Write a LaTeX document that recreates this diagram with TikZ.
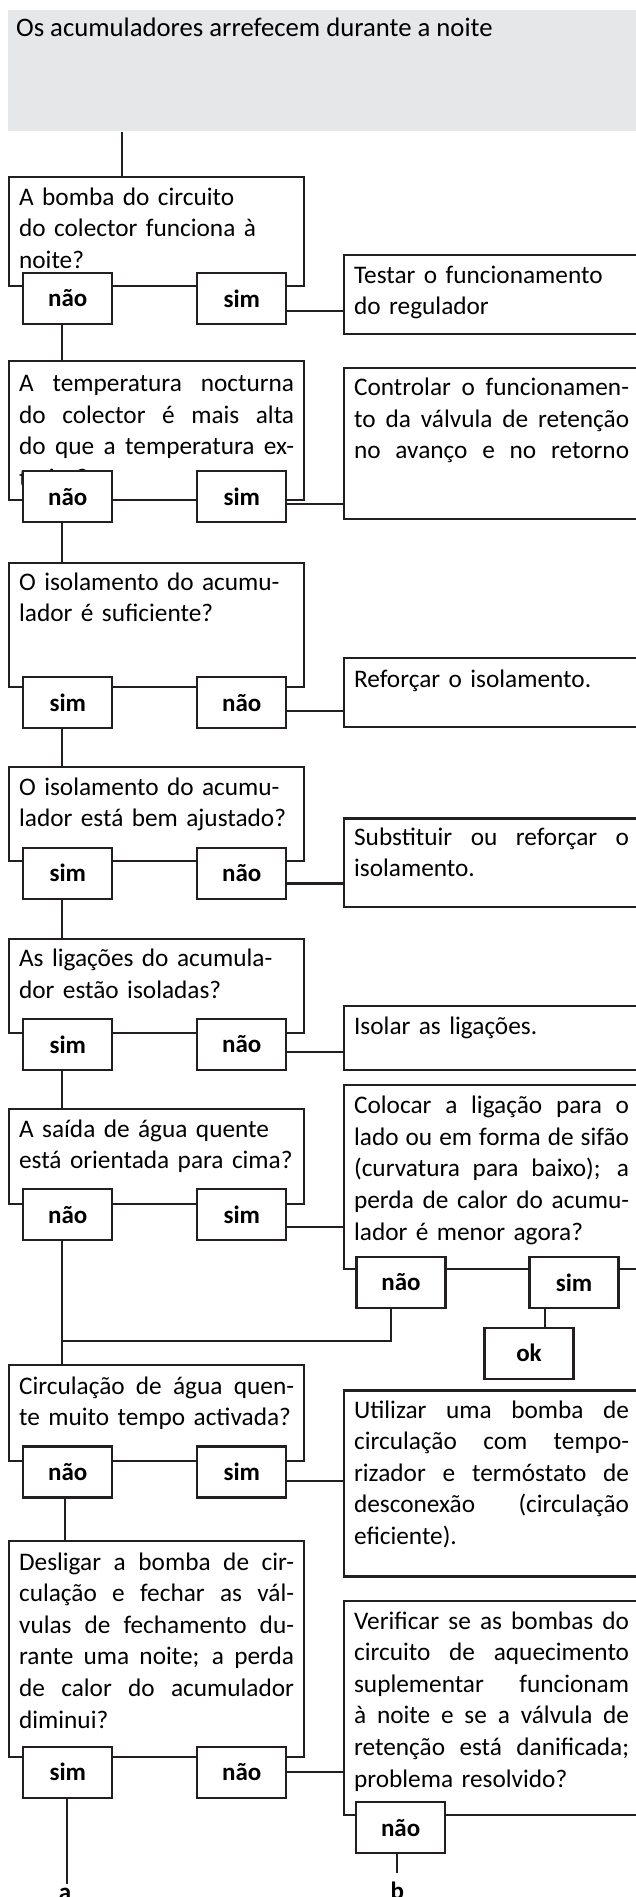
\documentclass[tikz,border=0pt]{standalone}
\usepackage{fontspec}
\setmainfont{Carlito}
\usetikzlibrary{positioning}
\definecolor{ink}{RGB}{35,31,32}
\definecolor{titlegray}{RGB}{230,231,233}
% a line set to the full width of its box, and one left at its own width
\newcommand{\fullline}[1]{\makebox[\linewidth][s]{%
    \spaceskip=\fontdimen2\font plus \fontdimen3\font minus .4\fontdimen2\font\relax #1}}
\newcommand{\ownline}[1]{\mbox{#1}}

\begin{document}
\begin{tikzpicture}[
    x=1pt,y=-1pt,
    font=\fontsize{25.3}{31.6}\selectfont,
    line width=2.2pt,
    qbox/.style={draw=ink,anchor=north west,minimum width=295pt,inner sep=0pt},
    rbox/.style={draw=ink,anchor=north west,minimum width=310pt,inner sep=0pt},
    boxtext/.style={anchor=base west,inner sep=0pt,text width=275pt,align=left},
    answer/.style={draw=ink,fill=white,minimum width=89pt,minimum height=51pt,
        inner sep=0pt,font=\fontsize{25}{30}\selectfont\bfseries},
    link/.style={draw=ink},
    endlabel/.style={inner sep=3pt,font=\fontsize{25}{30}\selectfont\bfseries}
]
\useasboundingbox (0,0) rectangle (636,1897);
% Starting condition.
\node[fill=titlegray,anchor=north west,minimum width=640pt,minimum height=121pt,inner sep=0pt]
    (start) at (7,9) {};
\node[anchor=base west,inner sep=0pt,font=\fontsize{26.7}{31.6}\selectfont] (starttext)
    at ([shift={(8,28)}]start.north west) {Os acumuladores arrefecem durante a noite};

% Questions on the left.
\node[qbox,minimum height=109pt] (q1) at (8,176) {};
\node[qbox,minimum height=139pt] (q2) at (8,360) {};
\node[qbox,minimum height=124pt] (q3) at (8,562) {};
\node[qbox,minimum height=94pt]  (q4) at (8,766) {};
\node[qbox,minimum height=94.5pt] (q5) at (8,937.5) {};
\node[qbox,minimum height=95pt]  (q6) at (8,1107.5) {};
\node[qbox,minimum height=96pt]  (q7) at (8,1364) {};
\node[qbox,minimum height=216pt] (q8) at (8,1539.5) {};

% Remedies on the right.
\node[rbox,minimum height=79pt]  (r1) at (343,254) {};
\node[rbox,minimum height=151pt] (r2) at (343,367) {};
\node[rbox,minimum height=69pt]  (r3) at (343,657) {};
\node[rbox,minimum height=88.6pt] (r4) at (343,817.4) {};
\node[rbox,minimum height=64pt]  (r5) at (343,1005) {};
\node[rbox,minimum height=184pt] (r6) at (343,1084) {};
\node[rbox,minimum height=186pt] (r7) at (343,1389.4) {};
\node[rbox,minimum height=214pt] (r8) at (343,1600) {};

% Box texts.
\node[boxtext] at ([shift={(10,29)}]q1.north west)
    {\ownline{A bomba do circuito}\\\ownline{do colector funciona à}\\noite?};
\node[boxtext] at ([shift={(10,31.5)}]q2.north west)
    {\fullline{A temperatura nocturna}\\\fullline{do colector é mais alta}\\
     \fullline{do que a temperatura ex-}\\terior?};
\node[boxtext] at ([shift={(10,28)}]q3.north west)
    {\ownline{O isolamento do acumu-}\\\ownline{lador é suficiente?}};
\node[boxtext] at ([shift={(10,29)}]q4.north west)
    {\ownline{O isolamento do acumu-}\\\ownline{lador está bem ajustado?}};
\node[boxtext] at ([shift={(10,29)}]q5.north west)
    {\ownline{As ligações do acumula-}\\\ownline{dor estão isoladas?}};
\node[boxtext] at ([shift={(10,29.5)}]q6.north west)
    {\ownline{A saída de água quente}\\\ownline{está orientada para cima?}};
\node[boxtext] at ([shift={(10,30)}]q7.north west)
    {\fullline{Circulação de água quen-}\\\ownline{te muito tempo activada?}};
\node[boxtext] at ([shift={(10,30.5)}]q8.north west)
    {\fullline{Desligar a bomba de cir-}\\\fullline{culação e fechar as vál-}\\
     \fullline{vulas de fechamento du-}\\\fullline{rante uma noite; a perda}\\
     \fullline{de calor do acumulador}\\diminui?};
\node[boxtext] at ([shift={(10,29)}]r1.north west)
    {\ownline{Testar o funcionamento}\\\ownline{do regulador}};
\node[boxtext] at ([shift={(10,28.5)}]r2.north west)
    {\fullline{Controlar o funcionamen-}\\\fullline{to da válvula de retenção}\\
     \fullline{no avanço e no retorno}};
\node[boxtext] at ([shift={(10,30)}]r3.north west)
    {\ownline{Reforçar o isolamento.}};
\node[boxtext] at ([shift={(10,27.6)}]r4.north west)
    {\fullline{Substituir ou reforçar o}\\isolamento.};
\node[boxtext] at ([shift={(10,29.5)}]r5.north west)
    {\ownline{Isolar as ligações.}};
\node[boxtext] at ([shift={(10,29.6)}]r6.north west)
    {\fullline{Colocar a ligação para o}\\\fullline{lado ou em forma de sifão}\\
     \fullline{(curvatura para baixo); a}\\\fullline{perda de calor do acumu-}\\
     \ownline{lador é menor agora?}};
\node[boxtext] at ([shift={(10,28.6)}]r7.north west)
    {\fullline{Utilizar uma bomba de}\\\fullline{circulação com tempo-}\\
     \fullline{rizador e termóstato de}\\\fullline{desconexão (circulação}\\eficiente).};
\node[boxtext] at ([shift={(10,29)}]r8.north west)
    {\fullline{Verificar se as bombas do}\\\fullline{circuito de aquecimento}\\
     \fullline{suplementar funcionam}\\\fullline{à noite e se a válvula de}\\
     \fullline{retenção está danificada;}\\\ownline{problema resolvido?}};

% Answers, laid over the bottom edges.
\node[answer] (n1) at (67.8,298.5) {não};
\node[answer] (s1) at (241.8,298.5) {sim};
\node[answer] (n2) at (67.8,496.8) {não};
\node[answer] (s2) at (241.8,496.8) {sim};
\node[answer] (s3) at (67.8,702.6) {sim};
\node[answer] (n3) at (241.8,702.6) {não};
\node[answer] (s4) at (67.8,873.2) {sim};
\node[answer] (n4) at (241.8,873.2) {não};
\node[answer] (s5) at (67.8,1044.5) {sim};
\node[answer] (n5) at (241.8,1044.5) {não};
\node[answer] (n6) at (67.8,1214.8) {não};
\node[answer] (s6) at (241.8,1214.8) {sim};
\node[answer] (n7) at (67.8,1472) {não};
\node[answer] (s7) at (241.8,1472) {sim};
\node[answer] (s8) at (67.8,1772.1) {sim};
\node[answer] (n8) at (241.8,1772.1) {não};
\node[answer] (rn6) at (401,1282.5) {não};
\node[answer] (rs6) at (574,1282.5) {sim};
\node[answer] (rn8) at (400.6,1827.7) {não};
\node[answer] (ok) at (529,1353.2) {ok};

% End labels.
\node[endlabel,anchor=base] (lbla) at (65,1900) {a};
\node[endlabel,anchor=base,inner ysep=7pt] (lblb) at (397.3,1899) {b};

% Connectors.
\draw[link] (start.south -| 122,0) -- (q1.north -| 122,0);
\draw[link] (n1.south -| 61.7,0) -- (q2.north -| 61.7,0);
\draw[link] (n2.south -| 61.7,0) -- (q3.north -| 61.7,0);
\draw[link] (s3.south -| 61.7,0) -- (q4.north -| 61.7,0);
\draw[link] (s4.south -| 61.7,0) -- (q5.north -| 61.7,0);
\draw[link] (s5.south -| 61.7,0) -- (q6.north -| 61.7,0);
\draw[link] (n6.south -| 61.7,0) -- (q7.north -| 61.7,0);
\draw[link] (n7.south -| 65,0) -- (q8.north -| 65,0);
\draw[link] (s1.east |- 0,311) -- (r1.west |- 0,311);
\draw[link] (s2.east |- 0,504) -- (r2.west |- 0,504);
\draw[link] (n3.east |- 0,711) -- (r3.west |- 0,711);
\draw[link] (n4.east |- 0,883.5) -- (r4.west |- 0,883.5);
\draw[link] (n5.east |- 0,1052) -- (r5.west |- 0,1052);
\draw[link] (s6.east |- 0,1227) -- (r6.west |- 0,1227);
\draw[link] (s7.east |- 0,1481) -- (r7.west |- 0,1481);
\draw[link] (n8.east) -- (n8.east -| r8.west);
\draw[link] (rn6.south -| 391,0) |- (61.7,1341);
\draw[link] (rs6.south -| 545,0) -- (ok.north -| 545,0);
\draw[link] (s8.south -| 66.7,0) -- (lbla.north -| 66.7,0);
\draw[link] (rn8.south -| lblb.north) -- (lblb.north);
\end{tikzpicture}
\end{document}
